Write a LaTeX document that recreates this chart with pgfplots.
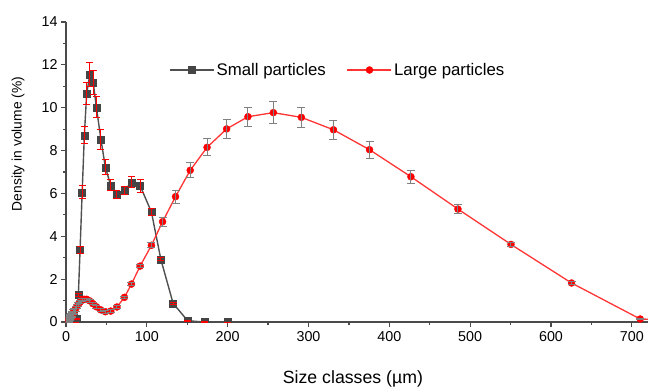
\documentclass[border=0pt]{standalone}
\usepackage{fontspec}
\setmainfont{Liberation Sans}
\usepackage{pgfplots}
\pgfplotsset{compat=1.18}
\usepackage{pgfplotstable}
\definecolor{sgray}{HTML}{505050}
\definecolor{mgray}{HTML}{454545}
\definecolor{lred}{HTML}{FF3535}
\definecolor{egray}{HTML}{808080}
\definecolor{axgray}{HTML}{4A4A4A}

\pgfplotstableread{
x y e
10.4 0 0
11.8 0 0
13.5 0.15 0.03
15.3 1.26 0.08
17.4 3.36 0.15
20.0 6.05 0.3
22.7 8.71 0.4
25.6 10.67 0.5
29.5 11.54 0.55
33.6 11.19 0.55
37.6 10.02 0.5
43.2 8.52 0.45
48.7 7.22 0.35
55.3 6.38 0.25
62.8 5.96 0.2
72.3 6.14 0.2
81.0 6.52 0.25
91.7 6.36 0.3
105.7 5.13 0.15
117.3 2.93 0.08
132.5 0.87 0.05
150.5 0.06 0.03
171.0 0 0.02
200.0 0 0
}\smalldata

\pgfplotstableread{
x y e
0 0 0
0.5 0 0.02
1.0 0 0.04
1.5 0.01 0.06
1.9 0.02 0.08
2.2 0.03 0.1
2.5 0.04 0.1
2.9 0.06 0.12
3.3 0.08 0.12
3.7 0.11 0.12
4.2 0.14 0.12
4.8 0.18 0.12
5.5 0.22 0.12
6.2 0.27 0.12
7.1 0.32 0.12
8.0 0.38 0.12
9.1 0.45 0.12
10.4 0.53 0.12
11.8 0.62 0.12
13.5 0.72 0.1
15.3 0.83 0.1
17.4 0.93 0.08
19.8 1.01 0.07
22.5 1.06 0.06
25.6 1.06 0.06
29.1 0.99 0.06
33.1 0.86 0.06
37.6 0.71 0.06
42.8 0.57 0.06
48.7 0.48 0.06
55.4 0.51 0.06
63.0 0.70 0.06
72.3 1.15 0.06
81.0 1.77 0.07
91.7 2.61 0.08
105.7 3.58 0.12
119.5 4.68 0.2
135.5 5.85 0.3
153.7 7.08 0.35
174.5 8.15 0.4
198.7 9.01 0.45
225.1 9.58 0.45
256.5 9.77 0.5
291.2 9.55 0.45
330.9 8.97 0.45
375.5 8.04 0.4
426.7 6.78 0.3
484.9 5.27 0.2
550.5 3.62 0.1
625.4 1.82 0.05
710.4 0.14 0.03
800.0 0.05 0
}\largedata

\begin{document}
\begin{tikzpicture}
\useasboundingbox (-66pt,-69pt) rectangle (582pt,322pt);
\begin{axis}[
  at={(0pt,0pt)}, anchor=south west,
  scale only axis, width=582pt, height=300pt,
  xmin=0, xmax=720, ymin=0, ymax=14,
  clip marker paths=true,
  axis lines*=left,
  axis line style={axgray, line width=1.3pt},
  xtick={0,100,...,700}, ytick={0,2,...,14},
  minor x tick num=1, minor y tick num=1,
  tick align=outside,
  major tick length=5pt, minor tick length=3pt,
  every tick/.style={axgray, line width=1.2pt},
  /pgf/number format/assume math mode=true,
  ticklabel style={font=\fontsize{14.3}{16}\selectfont},
  xticklabel style={yshift=-1pt},
  xlabel={Size classes (µm)},
  ylabel={Density in volume (\%)},
  xlabel style={font=\fontsize{17.7}{20}\selectfont, at={(axis description cs:0.493,-0.19)}, anchor=center},
  ylabel style={font=\fontsize{13.8}{15}\selectfont, at={(axis description cs:-0.0825,0.593)}, anchor=center, rotate=0},
  legend style={draw=none, fill=none, at={(axis description cs:0.177,0.84)}, anchor=west,
    legend columns=2, font=\fontsize{16.8}{20}\selectfont,
    /tikz/every even column/.append style={column sep=19pt}, inner sep=0pt},
  legend image code/.code={\draw[mark repeat=2, mark phase=2, #1] plot coordinates {(0pt,0pt) (22pt,0pt) (44pt,0pt)};},
]
% small particles: line and marks
\addplot[color=sgray, line width=1.4pt, mark=square*, mark size=3.5pt,
  mark options={solid, line width=0.4pt, fill=mgray, draw=mgray}]
  table[x=x, y=y] {\smalldata};
\addlegendentry{Small particles}
% large particles: line and marks
\addplot[color=lred, line width=1.3pt, mark=*, mark size=3.5pt,
  mark options={solid, line width=0.4pt, fill=red, draw=red}]
  table[x=x, y=y] {\largedata};
\addlegendentry{Large particles}
% error bars drawn on top
\addplot[forget plot, draw=none, mark=none,
  error bars/.cd, y dir=both, y explicit,
  error bar style={draw=red, line width=1pt},
  error mark options={rotate=90, draw=red, mark size=3.5pt, line width=1pt}]
  table[x=x, y=y, y error=e] {\smalldata};
\addplot[forget plot, draw=none, mark=none,
  error bars/.cd, y dir=both, y explicit,
  error bar style={draw=egray, line width=1pt},
  error mark options={rotate=90, draw=egray, mark size=4pt, line width=1pt}]
  table[x=x, y=y, y error=e] {\largedata};
\end{axis}
\end{tikzpicture}
\end{document}
